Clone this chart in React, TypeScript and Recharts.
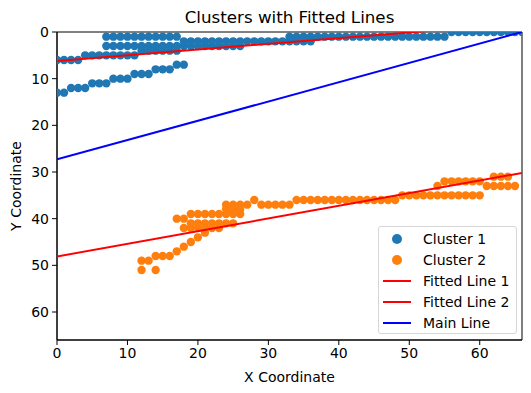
import React from 'react';
import { ComposedChart, Scatter, XAxis, YAxis, ReferenceArea } from 'recharts';

// Cluster 1 points (x, y)
const cluster1: [number, number][] = [
  [0, 13], [1, 13],
  [2, 12], [3, 12], [4, 12],
  [5, 11], [6, 11], [7, 11],
  [8, 10], [9, 10], [10, 10],
  [11, 9], [12, 9], [13, 9],
  [14, 8], [15, 8], [16, 8],
  [17, 7], [18, 7],
  [0, 6], [1, 6], [2, 6], [3, 6],
  [4, 5], [5, 5], [6, 5], [7, 5], [8, 5], [9, 5], [10, 5], [11, 5],
  [12, 4], [13, 4], [14, 4], [15, 4], [16, 4], [17, 4],
  [7, 3], [8, 3], [9, 3], [10, 3], [11, 3], [12, 3], [13, 3], [14, 3], [15, 3], [16, 3],
  [17, 3], [18, 3], [19, 3], [20, 3], [21, 3], [22, 3], [23, 3], [24, 3], [25, 3], [26, 3],
  [7, 1], [8, 1], [9, 1], [10, 1], [11, 1], [12, 1], [13, 1], [14, 1], [15, 1], [16, 1], [17, 1],
  [18, 2], [19, 2], [20, 2], [21, 2], [22, 2], [23, 2], [24, 2], [25, 2], [26, 2], [27, 2],
  [28, 2], [29, 2], [30, 2], [31, 2], [32, 2], [33, 2], [34, 2], [35, 2], [36, 2],
  [33, 1], [34, 1], [35, 1], [36, 1], [37, 1], [38, 1], [39, 1], [40, 1], [41, 1], [42, 1],
  [43, 1], [44, 1], [45, 1], [46, 1], [47, 1], [48, 1], [49, 1], [50, 1], [51, 1], [52, 1],
  [53, 1], [54, 1], [55, 1],
  [56, 0], [57, 0], [58, 0], [59, 0], [60, 0], [61, 0], [62, 0], [63, 0], [64, 0], [65, 0], [66, 0],
];

const cluster2: [number, number][] = [
  [12, 51], [14, 51],
  [12, 49], [13, 49],
  [14, 48], [15, 48], [16, 48],
  [17, 47], [18, 46], [19, 45], [20, 44], [21, 43], [22, 42],
  [18, 42], [19, 42], [20, 42], [21, 42], [23, 42],
  [19, 41], [20, 41], [21, 41], [22, 41], [23, 41], [24, 41], [25, 41],
  [17, 40], [18, 40],
  [19, 39], [20, 39], [21, 39], [22, 39], [23, 39], [24, 39], [25, 39], [26, 39],
  [24, 38], [25, 38], [26, 38],
  [24, 37], [25, 37], [26, 37], [27, 37], [29, 37], [30, 37], [31, 37], [32, 37], [33, 37],
  [28, 36],
  [34, 36], [35, 36], [36, 36], [37, 36], [38, 36], [39, 36], [40, 36], [41, 36], [42, 36],
  [43, 36], [44, 36], [45, 36], [46, 36], [47, 36], [48, 36],
  [49, 35], [50, 35], [51, 35], [52, 35], [53, 35], [54, 35], [55, 35], [56, 35], [57, 35],
  [58, 35], [59, 35], [60, 35],
  [54, 33],
  [55, 32], [56, 32], [57, 32], [58, 32], [59, 32], [60, 32],
  [61, 33], [62, 33], [63, 33], [64, 33], [65, 33],
  [62, 31], [63, 31], [64, 31],
];

// line end points
const fitted1: [number, number][] = [[0, 6.2], [66, -1.85]];
const fitted2: [number, number][] = [[0, 48.1], [66, 30.2]];
const mainLine: [number, number][] = [[0, 27.3], [66, 0]];

const xTicks = [0, 10, 20, 30, 40, 50, 60];
const yTicks = [0, 10, 20, 30, 40, 50, 60];

const legendItems = [
  { name: 'Cluster 1', color: '#1f77b4', kind: 'dot' },
  { name: 'Cluster 2', color: '#ff7f0e', kind: 'dot' },
  { name: 'Fitted Line 1', color: '#ff0000', kind: 'line' },
  { name: 'Fitted Line 2', color: '#ff0000', kind: 'line' },
  { name: 'Main Line', color: '#0000ff', kind: 'line' },
];

const toPts = (arr: [number, number][]) => arr.map(([x, y]) => ({ x, y }));

const dot = (color: string) => (p: any) => <circle cx={p.cx} cy={p.cy} r={4.2} fill={color} />;
const noDot = () => <g />;

const LegendBox = () => (
  <div
    style={{
      position: 'absolute',
      left: 378,
      top: 226,
      width: 139,
      height: 108,
      boxSizing: 'border-box',
      border: '1px solid #d6d6d6',
      borderRadius: 3,
      background: 'rgba(255,255,255,0.8)',
      padding: '1px 0 0 4px',
      fontSize: 14,
      color: '#000',
      whiteSpace: 'nowrap',
    }}
  >
    {legendItems.map((it) => (
      <div key={it.name} style={{ display: 'flex', alignItems: 'center', height: 21.2 }}>
        <svg width={28} height={12} style={{ marginRight: 12 }}>
          {it.kind === 'dot' ? (
            <circle cx={14} cy={6} r={5} fill={it.color} />
          ) : (
            <line x1={0} y1={6} x2={28} y2={6} stroke={it.color} strokeWidth={2} />
          )}
        </svg>
        <span>{it.name}</span>
      </div>
    ))}
  </div>
);

export default function App() {
  const tickStyle = { fill: '#000', fontSize: 14 };
  return (
    <div style={{ position: 'absolute', left: 0, top: 0, width: 531, height: 393, background: '#fff', fontFamily: '"DejaVu Sans", sans-serif' }}>
      <div style={{ position: 'absolute', left: 57, width: 465, top: 7, textAlign: 'center', fontSize: 16.7, color: '#000' }}>
        Clusters with Fitted Lines
      </div>
      <ComposedChart width={531} height={393} margin={{ top: 32, right: 9, bottom: 0, left: 0 }}>
        <XAxis
          type="number"
          dataKey="x"
          domain={[0, 66]}
          ticks={xTicks}
          allowDataOverflow
          height={53}
          stroke="#000"
          tick={tickStyle}
          tickSize={5}
          tickMargin={3}
          label={{ value: 'X Coordinate', position: 'insideBottom', offset: 11, fill: '#000', fontSize: 14 }}
        />
        <YAxis
          type="number"
          dataKey="y"
          domain={[0, 66]}
          ticks={yTicks}
          reversed
          allowDataOverflow
          width={57}
          stroke="#000"
          tick={tickStyle}
          tickSize={5}
          tickMargin={3}
          label={() => (
            <text x={16} y={186} transform="rotate(-90 16 186)" textAnchor="middle" dominantBaseline="central" fill="#000" fontSize={14}>
              Y Coordinate
            </text>
          )}
        />
        <Scatter name="Cluster 1" data={toPts(cluster1)} fill="#1f77b4" shape={dot('#1f77b4')} isAnimationActive={false} />
        <Scatter name="Cluster 2" data={toPts(cluster2)} fill="#ff7f0e" shape={dot('#ff7f0e')} isAnimationActive={false} />
        <Scatter name="Fitted Line 1" data={toPts(fitted1)} line={{ stroke: '#ff0000', strokeWidth: 2 }} shape={noDot} isAnimationActive={false} />
        <Scatter name="Fitted Line 2" data={toPts(fitted2)} line={{ stroke: '#ff0000', strokeWidth: 2 }} shape={noDot} isAnimationActive={false} />
        <Scatter name="Main Line" data={toPts(mainLine)} line={{ stroke: '#0000ff', strokeWidth: 2 }} shape={noDot} isAnimationActive={false} />
        <ReferenceArea x1={0} x2={66} y1={0} y2={66} fill="none" fillOpacity={0} stroke="#000" strokeWidth={1} strokeOpacity={1} ifOverflow="visible" />
      </ComposedChart>
      <LegendBox />
    </div>
  );
}
